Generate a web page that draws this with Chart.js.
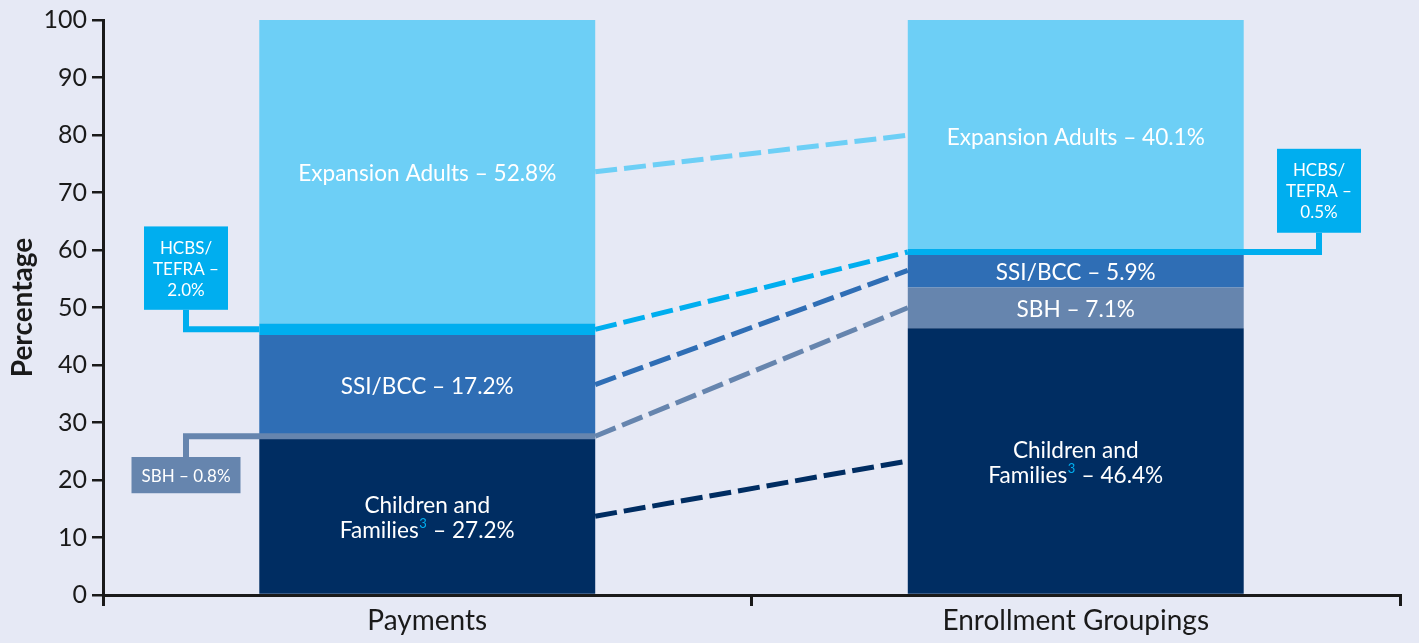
<!DOCTYPE html>
<html>
<head>
<meta charset="utf-8">
<script src="https://cdn.jsdelivr.net/npm/chart.js@4.4.1/dist/chart.umd.min.js"></script>
<style>
  html,body{margin:0;padding:0;background:#e6e9f5;}
  #wrap{width:1419px;height:643px;position:relative;}
</style>
</head>
<body>
<div id="wrap"><canvas id="chart"></canvas></div>
<script>
// payments vs enrollment share, stacked to 100%

const categories = ['Payments', 'Enrollment Groupings'];
const groups = ['Children and Families', 'SBH', 'SSI/BCC', 'HCBS/TEFRA', 'Expansion Adults'];
const payments = [27.2, 0.8, 17.2, 2.0, 52.8];
const enrollment = [46.4, 7.1, 5.9, 0.5, 40.1];
const groupColors = ['#002d62', '#6685ae', '#2f6eb5', '#00aeef', '#6dcff6'];

const BG = '#e6e9f5';
const INK = '#1a1a1a';
const FONT = 'Lato, "Open Sans", sans-serif';
const LABEL_SIZE = 22.6;

function pct(v){ return v.toFixed(1) + '%'; }

// geometry of one stacked segment
function seg(chart, di, i){
  const b = chart.getDatasetMeta(di).data[i];
  const p = b.getProps(['x','y','base','width'], true);
  return { l:p.x-p.width/2, r:p.x+p.width/2, cx:p.x, mid:(p.y+p.base)/2 };
}

function boxText(ctx, lines, cx, cy, size, gap){
  ctx.font = size + 'px ' + FONT;
  ctx.fillStyle = '#fff';
  ctx.textAlign = 'center';
  ctx.textBaseline = 'middle';
  const y0 = cy - (lines.length-1)*gap/2;
  lines.forEach((t,k) => ctx.fillText(t, cx, y0 + k*gap));
}

// "Families³ – 27.2%" with a small blue footnote mark
function familiesLine(ctx, value, cx, cy){
  const a = 'Families', s = '3', b = ' \u2013 ' + pct(value);
  ctx.textBaseline = 'middle';
  ctx.textAlign = 'left';
  ctx.font = LABEL_SIZE + 'px ' + FONT;
  const wa = ctx.measureText(a).width, wb = ctx.measureText(b).width;
  ctx.font = '13px ' + FONT;
  const ws = ctx.measureText(s).width + 1;
  let x = cx - (wa+ws+wb)/2;
  ctx.font = LABEL_SIZE + 'px ' + FONT; ctx.fillStyle = '#fff';
  ctx.fillText(a, x, cy); x += wa;
  ctx.font = '13px ' + FONT; ctx.fillStyle = '#00aeef';
  ctx.fillText(s, x+0.5, cy-7); x += ws;
  ctx.font = LABEL_SIZE + 'px ' + FONT; ctx.fillStyle = '#fff';
  ctx.fillText(b, x, cy);
}

const overlay = {
  id:'overlay',
  afterDatasetsDraw(chart){
    const ctx = chart.ctx;
    const ys = chart.scales.y;
    ctx.save();

    // dashed links between matching segments
    groups.forEach((g, di) => {
      const a = seg(chart, di, 0), b = seg(chart, di, 1);
      ctx.strokeStyle = groupColors[di];
      ctx.lineWidth = 5;
      ctx.setLineDash([22, 7]);
      ctx.beginPath();
      ctx.moveTo(a.r, a.mid);
      ctx.lineTo(b.l, b.mid);
      ctx.stroke();
    });
    ctx.setLineDash([]);

    // callouts for the thin segments
    const callouts = [
      { di:3, i:0, cx:186, w:84, top:64.1, bot:49.6, from:'bottom', to:'l' },
      { di:1, i:0, cx:186, w:109, top:24.0, bot:17.7, from:'top', to:'r' },
      { di:3, i:1, cx:1319, w:84, top:77.6, bot:63.0, from:'bottom', to:'l' }
    ];
    callouts.forEach(c => {
      const s = seg(chart, c.di, c.i);
      const vals = c.i === 0 ? payments : enrollment;
      const yt = ys.getPixelForValue(c.top), yb = ys.getPixelForValue(c.bot);
      const col = groupColors[c.di];
      ctx.strokeStyle = col;
      ctx.lineWidth = 6;
      ctx.lineJoin = 'miter';
      ctx.beginPath();
      ctx.moveTo(c.cx, c.from === 'bottom' ? yb : yt);
      ctx.lineTo(c.cx, s.mid);
      ctx.lineTo(c.to === 'r' ? s.r : s.l, s.mid);
      ctx.stroke();
      ctx.fillStyle = col;
      ctx.fillRect(c.cx - c.w/2, yt, c.w, yb - yt);
      const name = groups[c.di];
      const lines = name === 'HCBS/TEFRA'
        ? ['HCBS/', 'TEFRA \u2013', pct(vals[c.di])]
        : [name + ' \u2013 ' + pct(vals[c.di])];
      boxText(ctx, lines, c.cx, (yt+yb)/2 + 1, 17, 21);
    });

    // in-bar labels
    [payments, enrollment].forEach((vals, i) => {
      vals.forEach((v, di) => {
        const s = seg(chart, di, i);
        if(di === 3 || (i === 0 && di === 1)) return;
        const cy = s.mid + 2;
        if(di === 0){
          boxText(ctx, ['Children and'], s.cx, cy - 12.5, LABEL_SIZE, 25);
          familiesLine(ctx, v, s.cx, cy + 12.5);
        } else {
          boxText(ctx, [groups[di] + ' \u2013 ' + pct(v)], s.cx, cy, LABEL_SIZE, 25);
        }
      });
    });
    ctx.restore();
  }
};

Chart.defaults.font.family = FONT;
Chart.defaults.color = INK;

new Chart(document.getElementById('chart'), {
  type:'bar',
  data:{
    labels: categories,
    datasets: groups.map((g, di) => ({
      label: g,
      data: [payments[di], enrollment[di]],
      backgroundColor: groupColors[di],
      borderWidth: 0,
      categoryPercentage: 1,
      barPercentage: 0.518
    }))
  },
  options:{
    responsive:true,
    maintainAspectRatio:false,
    animation:false,
    layout:{ padding:{ left:0, top:19, right:19, bottom:0 } },
    plugins:{ legend:{ display:false }, tooltip:{ enabled:false } },
    scales:{
      x:{
        stacked:true,
        offset:true,
        grid:{ offset:true, drawOnChartArea:false, drawTicks:true, tickLength:11, color:INK, lineWidth:3 },
        border:{ display:true, color:INK, width:3 },
        ticks:{ font:{ size:28 }, color:INK, padding:-2 },
        afterFit(s){ s.height = 48; }
      },
      y:{
        stacked:true,
        min:0, max:100,
        grid:{ drawOnChartArea:false, drawTicks:true, tickLength:11, color:INK, lineWidth:2.5 },
        border:{ display:true, color:INK, width:3 },
        ticks:{ stepSize:10, font:{ size:25 }, color:INK, padding:5 },
        title:{ display:true, text:'Percentage', font:{ size:28, weight:'bold' }, color:INK, padding:{ top:6, bottom:0 } },
        afterFit(s){ s.width = 103; }
      }
    }
  },
  plugins:[overlay]
});
</script>
</body>
</html>
